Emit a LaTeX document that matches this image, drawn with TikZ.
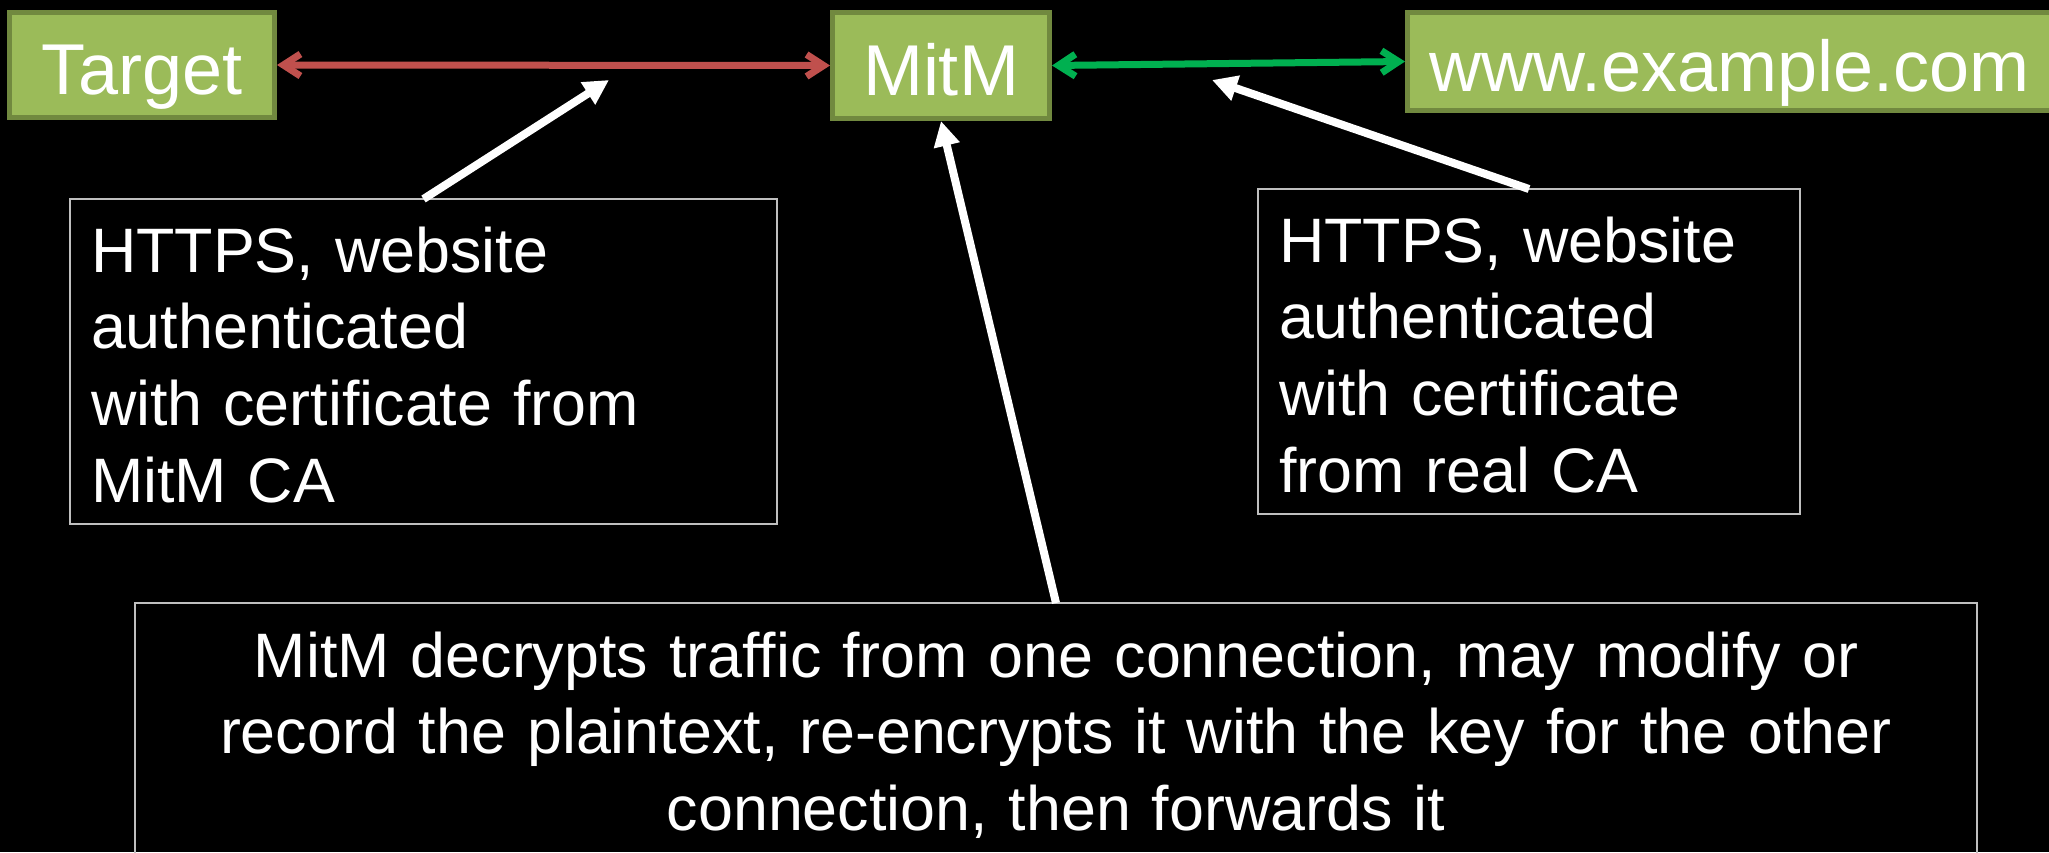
\documentclass[tikz,border=0pt]{standalone}
\usepackage{fontspec}
\setmainfont{Liberation Sans}
\usetikzlibrary{arrows.meta}

\definecolor{boxgreen}{HTML}{9BBB59}
\definecolor{boxedge}{HTML}{71893F}
\definecolor{linkred}{HTML}{C0504D}
\definecolor{linkgreen}{HTML}{00B050}
\definecolor{notegray}{HTML}{BFBFBF}

\newcommand\partyfont{\fontsize{72}{82}\selectfont}
\newcommand\notefont{\fontsize{62.8}{76.7}\selectfont}

\tikzset{
  party/.style={rectangle, fill=boxgreen, draw=boxedge, line width=5pt,
    inner sep=0pt, text=white, font=\partyfont,
    text height=59pt, text depth=0pt},
  note/.style={rectangle, draw=notegray, line width=1.5pt, outer sep=0pt,
    inner sep=0pt, inner xsep=21pt, text=white, font=\notefont},
  barbs/.style={line width=7pt,
    {Straight Barb[length=17pt,width=22pt]}-{Straight Barb[length=17pt,width=22pt]}},
  callout/.style={draw=white, line width=8pt,
    -{Triangle[length=25pt,width=25pt]}}
}

\begin{document}
\begin{tikzpicture}[x=1pt, y=-1pt]
  % black page
  \fill[black] (0,0) rectangle (2049,852);
  \useasboundingbox (0,0) rectangle (2049,852);

  % the three parties
  \node[party, minimum width=265pt, minimum height=105pt] (target) at (142,65) {Target};
  \node[party, minimum width=217pt, minimum height=106pt] (mitm) at (941,65.5) {MitM};
  \node[party, minimum width=644pt, minimum height=98pt] (www) at (1729.5,61.5) {www.example.com};

  % the two TLS connections
  \draw[barbs, draw=linkred] (target.east) -- (mitm.west);
  \draw[barbs, draw=linkgreen] (mitm.east) -- (www.west);

  % explanatory notes
  \node[note, anchor=north west, align=left, text width=665pt,
        text height=73pt, text depth=252pt] (lnote) at (70,199)
    {HTTPS, website\\authenticated\\with certificate from\\MitM CA};
  \node[note, anchor=north west, align=left, text width=500pt,
        text height=73pt, text depth=252pt] (rnote) at (1258,189)
    {HTTPS, website\\authenticated\\with certificate\\from real CA};
  \node[note, anchor=north, align=center, text width=1800pt,
        text height=74pt, text depth=300pt] (bnote) at (1056,603)
    {MitM decrypts traffic from one connection, may modify or\\record the plaintext, re-encrypts it with the key for the other\\connection, then forwards it};

  % arrow targets on the connection lines
  \coordinate (redtip) at (609,80);
  \coordinate (greentip) at (1212,80);

  % callout arrows
  \draw[callout] (lnote.north) -- (redtip);
  \draw[callout] (rnote.north) -- (greentip);
  \draw[callout] (bnote.north) -- (mitm.south);
\end{tikzpicture}
\end{document}
